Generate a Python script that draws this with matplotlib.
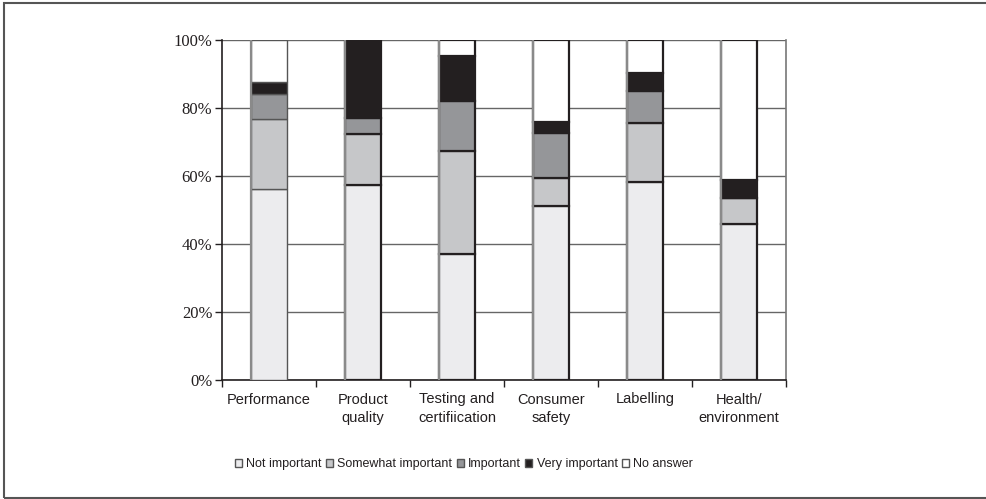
import numpy as np
import matplotlib.pyplot as plt
from matplotlib.patches import Rectangle

categories = ["Performance", "Product\nquality", "Testing and\ncertifiication",
              "Consumer\nsafety", "Labelling", "Health/\nenvironment"]
series = ["Not important", "Somewhat important", "Important", "Very important", "No answer"]

# segment sizes (%)
not_important = [56.2, 57.4, 37.1, 51.2, 58.2, 45.9]
somewhat = [20.5, 15.0, 30.3, 8.2, 17.3, 7.7]
important = [7.4, 4.8, 14.8, 13.3, 9.6, 0.0]
very = [3.4, 22.8, 13.1, 3.1, 5.1, 5.1]
no_answer = [12.5, 0.0, 4.7, 24.2, 9.8, 41.3]

colors = ["#ececee", "#c6c7c9", "#959699", "#231f20", "#ffffff"]
values = [not_important, somewhat, important, very, no_answer]

fig = plt.figure(figsize=(9.86, 4.99), dpi=100)
ax = fig.add_axes([222/986, 1-380/499, (786-222)/986, 340/499])

x = np.arange(len(categories))
w = 0.39
bottom = np.zeros(len(categories))
for name, vals, c in zip(series, values, colors):
    vals = np.array(vals)
    ax.bar(x, vals, w, bottom=bottom, color=c, edgecolor="#231f20",
           linewidth=1.6, label=name, zorder=3)
    bottom += vals
# grey shading on the left side of each bar
ax.vlines(x - w/2, 0, bottom, color="#8a8a8a", linewidth=1.6, zorder=4)

ax.set_ylim(0, 100)
ax.set_xlim(-0.5, len(categories) - 0.5)
ax.set_yticks(np.arange(0, 101, 20))
ax.set_yticklabels([f"{v}%" for v in range(0, 101, 20)],
                   family="Liberation Serif", fontsize=12, color="#231f20")
ax.yaxis.grid(True, color="#666666", linewidth=1, zorder=0)
ax.set_axisbelow(True)

ax.set_xticks(x)
ax.set_xticklabels(categories, family="Liberation Sans", fontsize=10.5,
                   color="#231f20", linespacing=1.45)
ax.set_xticks(np.arange(-0.5, len(categories)), minor=True)
ax.tick_params(axis="x", which="major", length=0, pad=9)
ax.tick_params(axis="x", which="minor", length=5, width=1, color="#231f20")
ax.tick_params(axis="y", length=5, width=1, color="#231f20", pad=2)

ax.spines["top"].set_visible(False)
ax.spines["right"].set_color("#777777")
ax.spines["left"].set_color("#231f20")
ax.spines["bottom"].set_color("#231f20")
for s in ["left", "bottom", "right"]:
    ax.spines[s].set_linewidth(1.2)

handles, labels = ax.get_legend_handles_labels()
for h in handles:
    h.patches[0].set_edgecolor("#555555")
    h.patches[0].set_linewidth(1.0)
leg = fig.legend(handles, labels, loc="center", bbox_to_anchor=(464/986, 1-464/499),
                 ncol=5, frameon=False, handlelength=0.55, handleheight=0.6,
                 handletextpad=0.35, columnspacing=0.35,
                 prop={"family": "Liberation Sans", "size": 9})
for t in leg.get_texts():
    t.set_color("#231f20")

fig.patches.append(Rectangle((4/986, 1/499), 1.2, 495/499, transform=fig.transFigure,
                             fill=False, edgecolor="#555555", linewidth=1.5))

fig.savefig("out.png", dpi=100)
